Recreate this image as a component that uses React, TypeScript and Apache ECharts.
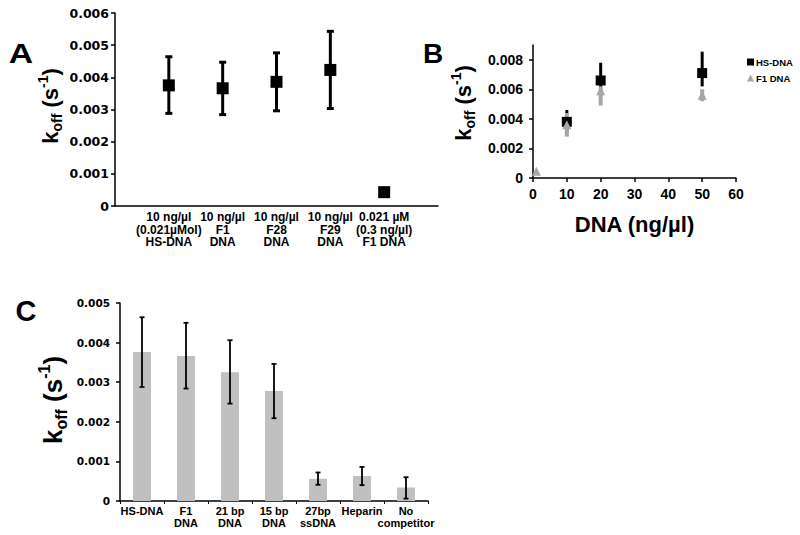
import React, { useEffect, useRef } from "react";
import * as echarts from "echarts";

// Panel A
const aLabels = ["10 ng/µl\n(0.021µMol)\nHS-DNA", "10 ng/µl\nF1\nDNA", "10 ng/µl\nF28\nDNA", "10 ng/µl\nF29\nDNA", "0.021 µM\n(0.3 ng/µl)\nF1 DNA"];
const aPos = [1, 2, 3, 4, 5];
const aValues = [0.00375, 0.00366, 0.00386, 0.00423, 0.00043];
const aLow = [0.00288, 0.00284, 0.00296, 0.00303, 0.00043];
const aHigh = [0.00464, 0.00447, 0.00476, 0.00543, 0.00043];

// Panel B
const bHsX = [10, 20, 50];
const bHsY = [0.0038, 0.0066, 0.0071];
const bHsLow = [0.0030, 0.0060, 0.0062];
const bHsHigh = [0.0046, 0.0078, 0.00855];
const bF1X = [1, 10, 20, 50];
const bF1Y = [0.00045, 0.0036, 0.0059, 0.0056];
const bF1Low = [0.00045, 0.0028, 0.0049, 0.0052];
const bF1High = [0.00045, 0.0044, 0.0062, 0.0060];
const bYTicks = [0, 0.002, 0.004, 0.006, 0.008];

// Panel C
const cCats = ["HS-DNA", "F1\nDNA", "21 bp\nDNA", "15 bp\nDNA", "27bp\nssDNA", "Heparin", "No\ncompetitor"];
const cValues = [0.00376, 0.00366, 0.00325, 0.00278, 0.00056, 0.00063, 0.00034];
const cLow = [0.00288, 0.00284, 0.00246, 0.00209, 0.00041, 0.0004, 0.00006];
const cHigh = [0.00464, 0.0045, 0.00406, 0.00346, 0.00072, 0.00086, 0.0006];

const ARIAL = "'Liberation Sans', Arial, sans-serif";
const DEJAVU = "'DejaVu Sans', sans-serif";

function errRender(lineWidth: number, cap: number, color: string) {
  return (params: any, api: any) => {
    const x = api.value(0);
    const lo = api.coord([x, api.value(1)]);
    const hi = api.coord([x, api.value(2)]);
    if (Math.abs(lo[1] - hi[1]) < 0.5) return { type: "group", children: [] };
    const st = { stroke: color, lineWidth };
    const children: any[] = [
      { type: "line", shape: { x1: lo[0], y1: lo[1], x2: hi[0], y2: hi[1] }, style: st },
    ];
    if (cap > 0) {
      children.push({ type: "line", shape: { x1: lo[0] - cap / 2, y1: lo[1], x2: lo[0] + cap / 2, y2: lo[1] }, style: st });
      children.push({ type: "line", shape: { x1: hi[0] - cap / 2, y1: hi[1], x2: hi[0] + cap / 2, y2: hi[1] }, style: st });
    }
    return { type: "group", children };
  };
}

function koffTitle(x: number, y: number, size: number) {
  const sub = Math.round(size * 0.62);
  return {
    type: "text",
    x,
    y,
    rotation: Math.PI / 2,
    style: {
      text: "{k|k}{s|off}{k| (s}{p|-1}{k|)}",
      align: "center",
      verticalAlign: "middle",
      rich: {
        k: { fontSize: size, fontWeight: "bold", fontFamily: ARIAL, fill: "#000", lineHeight: size * 1.3 },
        s: { fontSize: sub, fontWeight: "bold", fontFamily: ARIAL, fill: "#000", verticalAlign: "bottom" },
        p: { fontSize: sub, fontWeight: "bold", fontFamily: ARIAL, fill: "#000", verticalAlign: "top" },
      },
    },
  };
}

const axisLine = { show: true, lineStyle: { color: "#000", width: 1.5 } };

export default function App() {
  const ref = useRef<HTMLDivElement>(null);
  useEffect(() => {
    document.body.style.margin = "0";
    const chart = echarts.init(ref.current!, undefined, { renderer: "svg" });
    const fmt3 = (v: number) => (Math.abs(v) < 1e-12 ? "0" : v.toFixed(3));
    chart.setOption({
      animation: false,
      backgroundColor: "#fff",
      grid: [
        { left: 115, top: 13, width: 323, height: 193 },
        { left: 533, top: 45, width: 203, height: 133 },
        { left: 120, top: 303, width: 308, height: 198 },
      ],
      xAxis: [
        {
          gridIndex: 0, type: "value", min: 0, max: 6, interval: 1,
          axisLine, axisTick: { show: false }, splitLine: { show: false },
          axisLabel: {
            formatter: (v: number) => aLabels[Math.round(v) - 1] || "",
            fontFamily: ARIAL, fontWeight: "bold", fontSize: 12, color: "#000", lineHeight: 12.5, margin: 5,
            showMinLabel: false, showMaxLabel: false,
          },
        },
        {
          gridIndex: 1, type: "value", min: 0, max: 60, interval: 10,
          axisLine, axisTick: { show: true, length: 4, lineStyle: { color: "#000", width: 1.5 } }, splitLine: { show: false },
          axisLabel: { fontFamily: ARIAL, fontWeight: "bold", fontSize: 14, color: "#000", margin: 9 },
          name: "DNA (ng/µl)", nameLocation: "middle", nameGap: 35,
          nameTextStyle: { fontFamily: ARIAL, fontWeight: "bold", fontSize: 22, color: "#000" },
        },
        {
          gridIndex: 2, type: "category", data: cCats,
          axisLine, axisTick: { show: true, length: 3, lineStyle: { color: "#000" } }, splitLine: { show: false },
          axisLabel: { fontFamily: ARIAL, fontWeight: "bold", fontSize: 11, color: "#000", lineHeight: 12, margin: 4, interval: 0 },
        },
      ],
      yAxis: [
        {
          gridIndex: 0, type: "value", min: 0, max: 0.006, interval: 0.001,
          axisLine, axisTick: { show: true, length: 4, lineStyle: { color: "#000", width: 1.5 } }, splitLine: { show: false },
          axisLabel: { formatter: fmt3, fontFamily: DEJAVU, fontWeight: "bold", fontSize: 12.5, color: "#000", margin: 6 },
        },
        {
          gridIndex: 1, type: "value", min: 0, max: 0.009,
          axisLine,
          axisTick: { show: true, length: 4, customValues: bYTicks, lineStyle: { color: "#000", width: 1.5 } },
          splitLine: { show: false },
          axisLabel: { customValues: bYTicks, formatter: fmt3, fontFamily: ARIAL, fontWeight: "bold", fontSize: 14, color: "#000", margin: 10 },
        },
        {
          gridIndex: 2, type: "value", min: 0, max: 0.005, interval: 0.001,
          axisLine, axisTick: { show: true, length: 4, lineStyle: { color: "#000", width: 1.5 } }, splitLine: { show: false },
          axisLabel: { formatter: fmt3, fontFamily: DEJAVU, fontWeight: "bold", fontSize: 10.5, color: "#000", margin: 10 },
        },
      ],
      legend: {
        data: ["HS-DNA", "F1 DNA"],
        orient: "vertical", left: 742, top: 52, itemWidth: 7, itemHeight: 7, itemGap: 6,
        textStyle: { fontFamily: ARIAL, fontWeight: "bold", fontSize: 9.5, color: "#000", padding: [0, 0, 0, -3] },
      },
      series: [
        {
          name: "aErr", type: "custom", xAxisIndex: 0, yAxisIndex: 0,
          renderItem: errRender(3, 7, "#000"),
          encode: { x: 0, y: [1, 2] },
          data: aPos.map((p, i) => [p, aLow[i], aHigh[i]]),
        },
        {
          name: "A", type: "scatter", xAxisIndex: 0, yAxisIndex: 0, symbol: "rect", symbolSize: 12,
          itemStyle: { color: "#000", opacity: 1 },
          data: aPos.map((p, i) => [p, aValues[i]]),
        },
        {
          name: "hsErr", type: "custom", xAxisIndex: 1, yAxisIndex: 1,
          renderItem: errRender(3, 0, "#000"),
          encode: { x: 0, y: [1, 2] },
          data: bHsX.map((p, i) => [p, bHsLow[i], bHsHigh[i]]),
        },
        {
          name: "HS-DNA", type: "scatter", xAxisIndex: 1, yAxisIndex: 1, symbol: "rect", symbolSize: 10,
          itemStyle: { color: "#000", opacity: 1 },
          data: bHsX.map((p, i) => [p, bHsY[i]]),
        },
        {
          name: "f1Err", type: "custom", xAxisIndex: 1, yAxisIndex: 1,
          renderItem: errRender(4, 0, "#a6a6a6"),
          encode: { x: 0, y: [1, 2] },
          data: bF1X.map((p, i) => [p, bF1Low[i], bF1High[i]]),
        },
        {
          name: "F1 DNA", type: "scatter", xAxisIndex: 1, yAxisIndex: 1, symbol: "triangle", symbolSize: 9,
          itemStyle: { color: "#a6a6a6", opacity: 1 },
          data: bF1X.map((p, i) => [p, bF1Y[i]]),
        },
        {
          name: "C", type: "bar", xAxisIndex: 2, yAxisIndex: 2, barWidth: 18,
          itemStyle: { color: "#c0c0c0" },
          data: cValues,
        },
        {
          name: "cErr", type: "custom", xAxisIndex: 2, yAxisIndex: 2,
          renderItem: errRender(1.8, 5, "#000"),
          encode: { x: 0, y: [1, 2] },
          data: cCats.map((c, i) => [i, cLow[i], cHigh[i]]),
          z: 5,
        },
      ],
      graphic: [
        { type: "text", x: 21, y: 53, scaleX: 1.25, style: { text: "A", font: "bold 27px " + ARIAL, fill: "#000", align: "center", verticalAlign: "middle" } },
        { type: "text", x: 433, y: 53, style: { text: "B", font: "bold 28px " + ARIAL, fill: "#000", align: "center", verticalAlign: "middle" } },
        { type: "text", x: 26, y: 311, style: { text: "C", font: "bold 29px " + ARIAL, fill: "#000", align: "center", verticalAlign: "middle" } },
        koffTitle(50, 106, 22),
        koffTitle(463, 103, 22),
        koffTitle(53, 400, 26),
      ],
    });
    return () => chart.dispose();
  }, []);
  return <div ref={ref} style={{ width: 800, height: 535 }} />;
}
